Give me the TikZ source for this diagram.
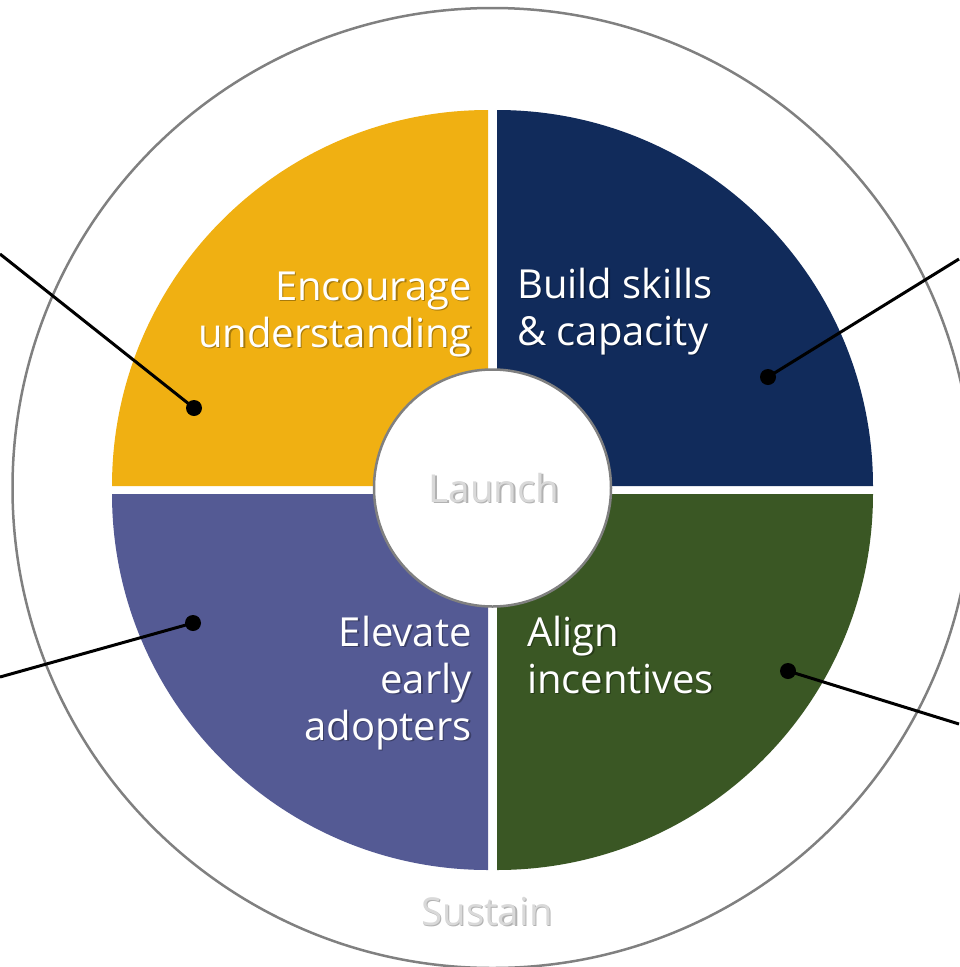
\documentclass[tikz,border=0pt]{standalone}
\usepackage{fontspec}
\setmainfont{Open Sans}
\usetikzlibrary{positioning}

\definecolor{goldq}{RGB}{240,176,18}
\definecolor{navyq}{RGB}{17,43,91}
\definecolor{greenq}{RGB}{58,87,36}
\definecolor{purpleq}{RGB}{84,90,148}
\definecolor{ringgray}{RGB}{128,128,128}
\definecolor{phasegray}{RGB}{217,217,217}

\begin{document}
\begin{tikzpicture}[x=1pt, y=-1pt]
		% Define node styles
		\tikzstyle{quadtext} = [font=\fontsize{40}{47}\selectfont, text=white, inner sep=0pt];
		\tikzstyle{phasetext} = [font=\fontsize{38.5}{44}\selectfont, text=phasegray, inner sep=0pt];
		\tikzstyle{shade} = [text=black, opacity=0.3];
		\tikzstyle{dot} = [circle, fill=black, inner sep=0pt, minimum size=16pt];
		\tikzstyle{leader} = [line width=3pt, black];
		
		\useasboundingbox (0,0) rectangle (959,967);
		
		% Outer ring (Sustain)
		\draw[ringgray, line width=2.5pt] (492.5,488) circle[radius=480];
		
		% Four quadrants
		\fill[goldq] (488,486) -- ++(-376,0) arc[start angle=180, end angle=270, radius=376] -- cycle;
		\fill[navyq] (497,486) -- ++(0,-376) arc[start angle=270, end angle=360, radius=376] -- cycle;
		\fill[greenq] (497,494) -- ++(376,0) arc[start angle=0, end angle=90, radius=376] -- cycle;
		\fill[purpleq] (488,494) -- ++(0,376) arc[start angle=90, end angle=180, radius=376] -- cycle;
		
		% Centre circle (Launch)
		\node[circle, draw=ringgray, line width=2.5pt, fill=white, minimum size=237pt] (launch) at (492.5,488) {};
		\node[phasetext, shade, anchor=base] at (495.5,503.5) {Launch};
		\node[phasetext, anchor=base] (launchtxt) at (494,502) {Launch};
		
		% Sustain label
		\node[phasetext, shade, anchor=base] at (488.5,926.5) {Sustain};
		\node[phasetext, anchor=base] (sustain) at (487,925) {Sustain};
		
		% Quadrant labels (anchored on the last line)
		\node[quadtext, shade, anchor=base east, align=right] at (473.5,348.5) {Encourage\\understanding};
		\node[quadtext, anchor=base east, align=right] (encourage) at (472,347) {Encourage\\understanding};
		\node[quadtext, shade, anchor=base west, align=left] at (518.5,346.5) {Build skills\\\& capacity};
		\node[quadtext, anchor=base west, align=left] (build) at (517,345) {Build skills\\\& capacity};
		\node[quadtext, shade, anchor=base east, align=right] at (473.5,741.5) {Elevate\\early\\adopters};
		\node[quadtext, anchor=base east, align=right] (elevate) at (472,740) {Elevate\\early\\adopters};
		\node[quadtext, shade, anchor=base west, align=left] at (528.5,694.5) {Align\\incentives};
		\node[quadtext, anchor=base west, align=left] (align) at (527,693) {Align\\incentives};
		
		% Leader dots and their free ends
		\node[dot] (dotenc) at (194,408) {};
		\node[dot] (dotbuild) at (768,377) {};
		\node[dot] (dotelev) at (193,623) {};
		\node[dot] (dotalign) at (788,671) {};
		\coordinate (endenc) at (0,254);
		\coordinate (endbuild) at (959,259);
		\coordinate (endelev) at (0,677);
		\coordinate (endalign) at (959,724);
		
		% Leader lines
		\draw[leader] (dotenc.center) -- (endenc);
		\draw[leader] (dotbuild.center) -- (endbuild);
		\draw[leader] (dotelev.center) -- (endelev);
		\draw[leader] (dotalign.center) -- (endalign);
	\end{tikzpicture}
\end{document}
